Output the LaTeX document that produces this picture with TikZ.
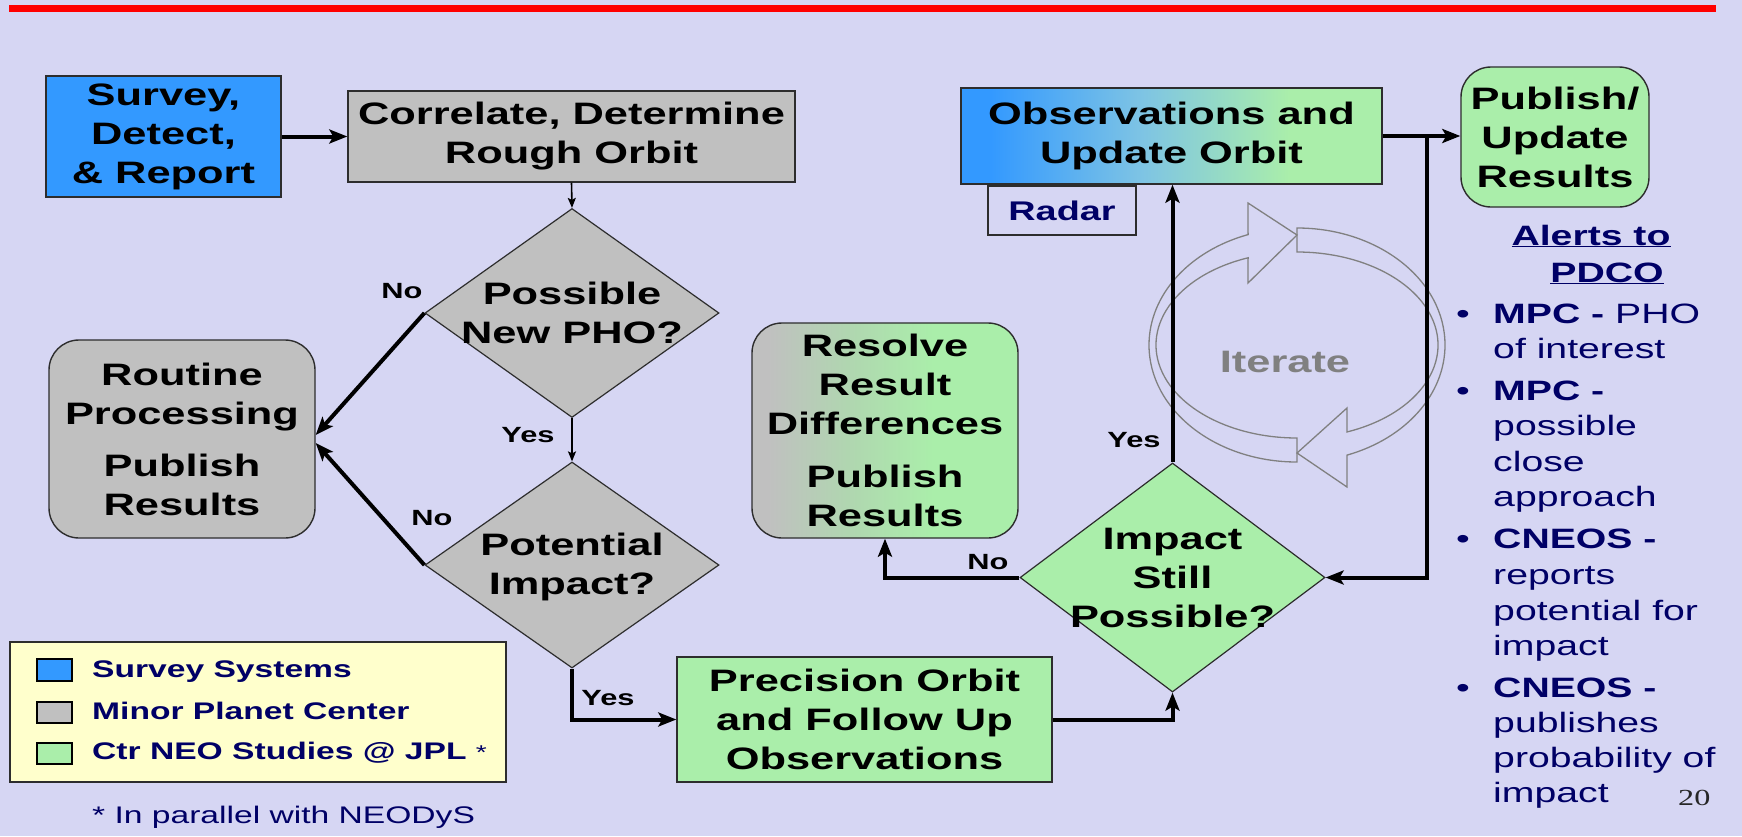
\documentclass[tikz,border=0pt]{standalone}
\usepackage{fontspec}
\setmainfont{Liberation Sans}[FakeStretch=1.4]
\newfontfamily\NEOserif{Liberation Serif}[FakeStretch=1.4]
\usetikzlibrary{shapes.geometric,arrows.meta}
\definecolor{bg}{RGB}{214,214,243}
\definecolor{cblue}{RGB}{51,153,255}
\definecolor{cgray}{RGB}{192,192,192}
\definecolor{cgreen}{RGB}{170,238,170}
\definecolor{cmid}{RGB}{126,196,228}
\definecolor{cgg}{RGB}{176,214,176}
\definecolor{navy}{RGB}{0,0,102}
\definecolor{lyel}{RGB}{255,255,204}
\definecolor{edge}{RGB}{45,45,45}
\definecolor{itg}{RGB}{128,128,128}
\pgfdeclarehorizontalshading{obsshade}{100bp}{color(0bp)=(cblue); color(28.5bp)=(cblue); color(46.5bp)=(cmid); color(64bp)=(cgreen); color(100bp)=(cgreen)}
\pgfdeclarehorizontalshading{resshade}{100bp}{color(0bp)=(cgray); color(28bp)=(cgray); color(43bp)=(cgg); color(59bp)=(cgreen); color(100bp)=(cgreen)}
\newcommand{\NEOmain}{\bfseries\fontsize{31}{39}\selectfont}
\newcommand{\NEOlab}{\bfseries\fontsize{22}{26}\selectfont}
\newcommand{\NEOleg}{\bfseries\fontsize{24}{28}\selectfont}
\newcommand{\NEObul}{\fontsize{28}{35}\selectfont}
\begin{document}
\begin{tikzpicture}[x=1pt,y=-1pt,
  base/.style={inner sep=0pt, align=center, font=\NEOmain, text=black},
  sq/.style={base, draw=edge, line width=1.4pt},
  rnd/.style={sq, rounded corners=30pt},
  dia/.style={diamond, draw=edge, line width=1.2pt, inner sep=0pt},
  dtext/.style={inner sep=0pt, align=center, font=\NEOmain, text=black},
  conn/.style={line width=4pt, -{Stealth[length=18pt,width=14pt,inset=4pt]}},
  connthin/.style={line width=1.6pt, -{Stealth[length=10pt,width=8pt,inset=2pt]}},
  lab/.style={font=\NEOlab, inner sep=0pt, text=black},
  iterline/.style={draw=itg, line width=1.3pt, line join=miter},
  leg/.style={font=\NEOleg, text=navy, inner sep=0pt, anchor=base west},
  legsq/.style={draw=black, line width=1.4pt},
  bul/.style={font=\NEObul, text=navy, inner sep=0pt, anchor=base west},
  dot/.style={font=\NEObul, text=navy, inner sep=0pt, anchor=base}
]
\useasboundingbox (0,0) rectangle (1742,836);
\fill[bg] (0,0) rectangle (1742,836);
\draw[red, line width=7pt] (9,8.5) -- (1716,8.5);

% iterate circular arrows
\draw[iterline] ([shift={(1297,345)}]90:148 and 117) arc[start angle=90,end angle=250.7,x radius=148,y radius=117] -- (1248,203) -- (1297,235) -- (1248,283) -- ([shift={(1297,345)}]249.7:141 and 93) arc[start angle=249.7,end angle=90,x radius=141,y radius=93] -- cycle;
\draw[iterline] ([shift={(1297,345)}]-90:148 and 117) arc[start angle=-90,end angle=70.3,x radius=148,y radius=117] -- (1347,487) -- (1297,453) -- (1347,408) -- ([shift={(1297,345)}]69.2:141 and 93) arc[start angle=69.2,end angle=-90,x radius=141,y radius=93] -- cycle;
\node[font=\NEOmain, text=itg, inner sep=0pt] (iter) at (1285,362) {Iterate};

% boxes
\node[sq, fill=cblue, minimum width=235pt, minimum height=121pt] (surv) at (163.5,136.5) {Survey,\\Detect,\\\& Report};
\node[sq, fill=cgray, minimum width=447pt, minimum height=91pt] (corr) at (571.5,136.5) {Correlate, Determine\\Rough Orbit};
\node[rnd, fill=cgray, minimum width=266pt, minimum height=198pt] (rout) at (182,439) {Routine\\Processing\\[13pt]Publish\\Results};
\node[rnd, shading=resshade, minimum width=266pt, minimum height=215pt] (res) at (885,430.5) {Resolve\\Result\\Differences\\[14pt]Publish\\Results};
\node[sq, shading=obsshade, minimum width=421pt, minimum height=96pt] (obs) at (1171.5,136) {Observations and\\Update Orbit};
\node[draw=edge, line width=1.4pt, minimum width=148pt, minimum height=49pt, inner sep=0pt, font=\bfseries\fontsize{27}{30}\selectfont, text=navy] (radar) at (1062,210.5) {Radar};
\node[rnd, fill=cgreen, minimum width=188pt, minimum height=140pt] (pub) at (1555,137) {Publish/\\Update\\Results};
\node[sq, fill=cgreen, minimum width=375pt, minimum height=125pt] (prec) at (864.5,719.5) {Precision Orbit\\and Follow Up\\Observations};

% diamonds
\node[dia, fill=cgray, minimum width=294pt, minimum height=209pt] (d1) at (572,313) {};
\node[dtext] (d1t) at (572,313) {Possible\\New PHO?};
\node[dia, fill=cgray, minimum width=294pt, minimum height=206pt] (d2) at (572,565) {};
\node[dtext] (d2t) at (572,567) {Potential\\Impact?};
\node[dia, fill=cgreen, minimum width=305pt, minimum height=229pt] (d3) at (1172.5,577.5) {};
\node[dtext] (d3t) at (1172.5,578) {Impact\\Still\\Possible?};

% labels
\node[lab] (no1) at (402,291) {No};
\node[lab] (no2) at (432,518) {No};
\node[lab] (yes1) at (528,435) {Yes};
\node[lab] (yes2) at (608,698) {Yes};
\node[lab] (no3) at (988,562) {No};
\node[lab] (yes3) at (1134,440) {Yes};

% connectors
\draw[conn] (surv.east) -- (corr.west);
\draw[connthin] (corr.south) -- (d1.north);
\draw[connthin] (d1.south) -- (d2.north);
\draw[conn] (d1.west) -- ([yshift=4pt]rout.east);
\draw[conn] (d2.west) -- ([yshift=-4pt]rout.east);
\draw[conn] (d2.south) |- (prec.west);
\draw[conn] (prec.east) -| (d3.south);
\draw[conn] (d3.west) -| (res.south);
\draw[conn] (d3.north) -- (d3.north |- obs.south);
\draw[conn] (obs.east) -- (obs.east -| pub.west);
\coordinate (j) at (1427,136);
\draw[conn] (j) |- (d3.east);

% alerts
\node[font=\bfseries\fontsize{28}{35}\selectfont, text=navy, inner sep=0pt, anchor=base] (al1) at (1591,245) {\underline{Alerts to}};
\node[font=\bfseries\fontsize{28}{35}\selectfont, text=navy, inner sep=0pt, anchor=base] (al2) at (1607,282) {\underline{PDCO}};

\node[dot] (b1) at (1463,323) {•};
\node[bul] (t1a) at (1493,323) {\textbf{MPC -} PHO};
\node[bul] (t1b) at (1493,358) {of interest};
\node[dot] (b2) at (1463,400) {•};
\node[bul] (t2a) at (1493,400) {\textbf{MPC -}};
\node[bul] (t2b) at (1493,435.5) {possible};
\node[bul] (t2c) at (1493,471) {close};
\node[bul] (t2d) at (1493,506.5) {approach};
\node[dot] (b3) at (1463,548) {•};
\node[bul] (t3a) at (1493,548) {\textbf{CNEOS -}};
\node[bul] (t3b) at (1493,584) {reports};
\node[bul] (t3c) at (1493,620) {potential for};
\node[bul] (t3d) at (1493,655) {impact};
\node[dot] (b4) at (1463,697) {•};
\node[bul] (t4a) at (1493,697) {\textbf{CNEOS -}};
\node[bul] (t4b) at (1493,732) {publishes};
\node[bul] (t4c) at (1493,767) {probability of};
\node[bul] (t4d) at (1493,802) {impact};
\node[font=\NEOserif\fontsize{23}{26}\selectfont, text=black!85, inner sep=0pt, anchor=base west] (pg) at (1678,805) {20};

% legend
\draw[fill=lyel, draw=edge, line width=2pt] (10,642) rectangle (506,782);
\draw[legsq, fill=cblue] (37,659) rectangle (72,681);
\draw[legsq, fill=cgray] (37,702) rectangle (72,723);
\draw[legsq, fill=cgreen] (37,743) rectangle (72,764);
\node[leg] (l1) at (92,677) {Survey Systems};
\node[leg] (l2) at (92,719) {Minor Planet Center};
\node[leg] (l3) at (92,759) {Ctr NEO Studies @ JPL {\mdseries\fontsize{20}{20}\selectfont *}};
\node[font=\fontsize{24}{28}\selectfont, text=navy, inner sep=0pt, anchor=base west] (fn) at (92,823) {* In parallel with NEODyS};
\end{tikzpicture}
\end{document}
